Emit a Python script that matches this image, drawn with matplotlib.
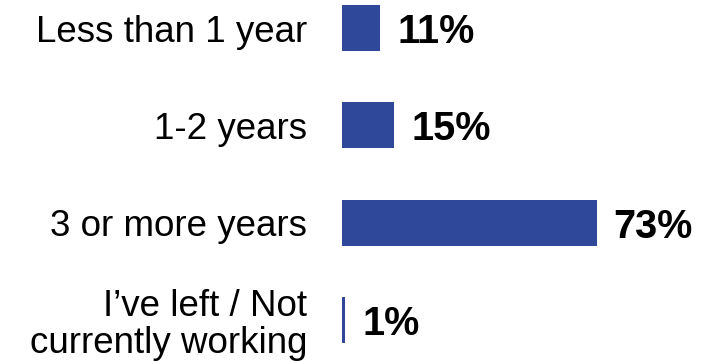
import matplotlib
matplotlib.use("Agg")
import matplotlib.pyplot as plt

categories = ["Less than 1 year", "1-2 years", "3 or more years",
              "I\u2019ve left / Not\ncurrently working"]
values = [11, 15, 73, 1]
value_labels = ["11%", "15%", "73%", "1%"]

BAR_COLOR = "#2F4899"
FONT = ["Liberation Sans", "DejaVu Sans"]

fig = plt.figure(figsize=(7.25, 3.61), dpi=100)
ax = fig.add_axes([342 / 725, 0, 383 / 725, 1])

pos = list(range(len(categories)))
ax.barh(pos, values, height=0.473, color=BAR_COLOR, edgecolor="none")

ax.set_xlim(0, 383 / 3.49)
ax.set_ylim(3.422, -0.288)

ax.set_yticks(pos)
ax.set_yticklabels(categories, fontsize=26.5, family=FONT, color="black",
                   linespacing=1.08)
ax.tick_params(axis="y", length=0, pad=25)
ax.set_xticks([])
for s in ax.spines.values():
    s.set_visible(False)

for p, v, lab in zip(pos, values, value_labels):
    ax.annotate(lab, xy=(v, p), xytext=(12, 0), textcoords="offset points",
                ha="left", va="center_baseline", fontsize=28.5,
                fontweight="bold", family=FONT, color="black")

fig.savefig("out.png", dpi=100)
